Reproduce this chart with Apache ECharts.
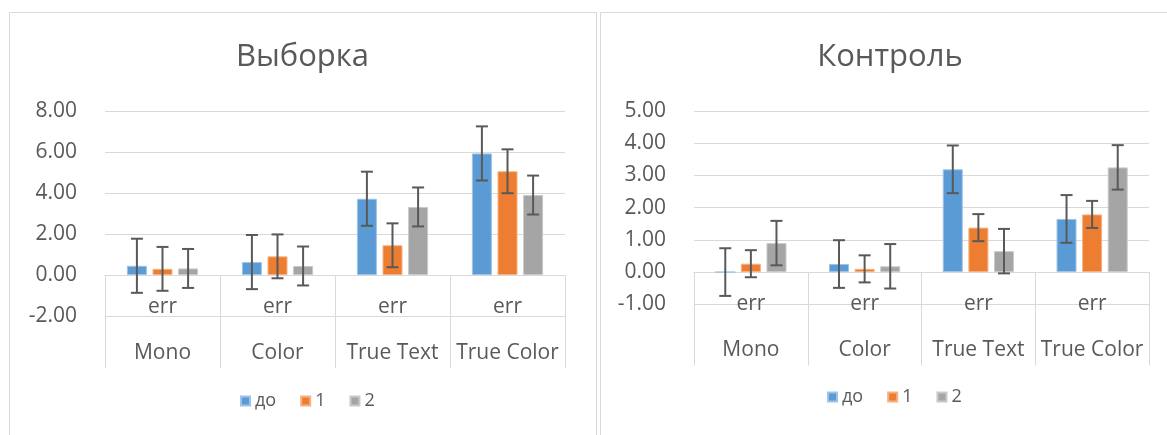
<!DOCTYPE html>
<html><head><meta charset="utf-8">
<script src="https://cdn.jsdelivr.net/npm/echarts@6/dist/echarts.min.js"></script>
<style>html,body{margin:0;padding:0;background:#fff}#c{width:1167px;height:435px}</style>
</head><body><div id="c"></div>
<script>
const categories = ['Mono', 'Color', 'True Text', 'True Color'];
const subLabel = 'err';
const seriesNames = ['до', '1', '2'];
const leftTitle = 'Выборка';
const rightTitle = 'Контроль';
// Выборка
const sampleDo = [0.45, 0.63, 3.72, 5.93];
const sample1 = [0.30, 0.91, 1.45, 5.06];
const sample2 = [0.32, 0.44, 3.32, 3.90];
const sampleErrDo = [1.32, 1.32, 1.32, 1.32];
const sampleErr1 = [1.07, 1.07, 1.07, 1.07];
const sampleErr2 = [0.95, 0.95, 0.95, 0.95];
// Контроль
const ctrlDo = [0.00, 0.25, 3.19, 1.65];
const ctrl1 = [0.26, 0.10, 1.38, 1.79];
const ctrl2 = [0.90, 0.18, 0.65, 3.25];
const ctrlErrDo = [0.74, 0.74, 0.74, 0.74];
const ctrlErr1 = [0.42, 0.42, 0.42, 0.42];
const ctrlErr2 = [0.69, 0.69, 0.69, 0.69];
// axis ticks
const leftTicks = {min: -2, max: 8, interval: 2};
const rightTicks = {min: -1, max: 5, interval: 1};

const colors = ['#5B9BD5', '#ED7D31', '#A5A5A5'];
const borders = ['#9DC3E6', '#F4B183', '#C9C9C9'];
const FONT = '"Open Sans", "Noto Sans", sans-serif';
const TXT = '#595959';
const LINE = '#d9d9d9';
const BAR_W = 20, GAP = 0.28;

function errRender(offset) {
  return function (params, api) {
    const x = api.value(0), lo = api.value(1), hi = api.value(2);
    const p1 = api.coord([x, hi]);
    const p2 = api.coord([x, lo]);
    const cx = p1[0] + offset;
    const style = {stroke: '#595959', lineWidth: 2};
    return {type: 'group', children: [
      {type: 'line', shape: {x1: cx, y1: p1[1], x2: cx, y2: p2[1]}, style},
      {type: 'line', shape: {x1: cx - 6, y1: p1[1], x2: cx + 6, y2: p1[1]}, style},
      {type: 'line', shape: {x1: cx - 6, y1: p2[1], x2: cx + 6, y2: p2[1]}, style}
    ]};
  };
}

function xAxisCfg(gi, tickLen, labelMargin) {
  return {
    type: 'category', gridIndex: gi, data: categories,
    axisLine: {show: true, onZero: true, lineStyle: {color: LINE, width: 1}},
    axisTick: {show: true, length: tickLen, interval: 0, lineStyle: {color: LINE, width: 1}},
    axisLabel: {
      interval: 0, margin: labelMargin, color: TXT,
      formatter: v => '{a|' + subLabel + '}\n{b|' + v + '}',
      rich: {
        a: {fontSize: 21, lineHeight: 46, color: TXT, fontFamily: FONT},
        b: {fontSize: 21, lineHeight: 46, color: TXT, fontFamily: FONT}
      }
    },
    splitLine: {show: false}
  };
}
function yAxisCfg(gi, t) {
  return {
    type: 'value', gridIndex: gi, min: t.min, max: t.max, interval: t.interval,
    axisLine: {show: false}, axisTick: {show: false},
    axisLabel: {formatter: v => v.toFixed(2), margin: 28, fontSize: 21, color: TXT, fontFamily: FONT},
    splitLine: {lineStyle: {color: LINE, width: 1}}
  };
}

const groups = [
  {vals: [sampleDo, sample1, sample2], errs: [sampleErrDo, sampleErr1, sampleErr2]},
  {vals: [ctrlDo, ctrl1, ctrl2], errs: [ctrlErrDo, ctrlErr1, ctrlErr2]}
];
const series = [];
groups.forEach((g, gi) => {
  g.vals.forEach((vals, si) => {
    series.push({
      type: 'bar', name: seriesNames[si], xAxisIndex: gi, yAxisIndex: gi,
      data: vals, barWidth: BAR_W, barGap: (GAP * 100) + '%',
      itemStyle: {color: colors[si], borderColor: borders[si], borderWidth: 1},
      z: 2
    });
  });
});
groups.forEach((g, gi) => {
  g.vals.forEach((vals, si) => {
    const offset = (si - 1) * BAR_W * (1 + GAP);
    series.push({
      type: 'custom', name: 'err ' + seriesNames[si], xAxisIndex: gi, yAxisIndex: gi,
      renderItem: errRender(offset),
      encode: {x: 0, y: [1, 2]},
      data: vals.map((v, i) => [i, v - g.errs[si][i], v + g.errs[si][i]]),
      z: 5, silent: true
    });
  });
});

function legendCfg(left, top) {
  return {
    data: seriesNames, left, top, padding: 0, itemGap: 24,
    itemWidth: 9, itemHeight: 9, icon: 'rect',
    textStyle: {fontSize: 18, color: TXT, fontFamily: FONT},
    selectedMode: false
  };
}

const chart = echarts.init(document.getElementById('c'), null, {renderer: 'canvas'});
chart.setOption({
  animation: false,
  backgroundColor: '#fff',
  grid: [
    {left: 105, top: 111, width: 460, height: 205},
    {left: 694, top: 111, width: 455, height: 193.3}
  ],
  xAxis: [xAxisCfg(0, 93, -32), xAxisCfg(1, 93.5, -23)],
  yAxis: [yAxisCfg(0, leftTicks), yAxisCfg(1, rightTicks)],
  legend: [legendCfg(240, 392), legendCfg(827, 388)],
  graphic: [
    {type: 'rect', silent: true, z: -10, shape: {x: 9.5, y: 12.5, width: 587, height: 440}, style: {fill: 'none', stroke: LINE, lineWidth: 1}},
    {type: 'rect', silent: true, z: -10, shape: {x: 600.5, y: 12.5, width: 600, height: 440}, style: {fill: 'none', stroke: LINE, lineWidth: 1}},
    {type: 'text', x: 302.5, y: 57, style: {text: leftTitle, fontSize: 31, fontFamily: FONT, fill: TXT, align: 'center', verticalAlign: 'middle'}},
    {type: 'text', x: 890, y: 57, style: {text: rightTitle, fontSize: 31, fontFamily: FONT, fill: TXT, align: 'center', verticalAlign: 'middle'}}
  ],
  series
});
</script></body></html>
